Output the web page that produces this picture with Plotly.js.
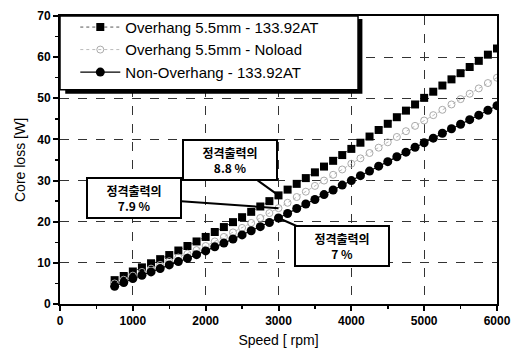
<!DOCTYPE html>
<html>
<head>
<meta charset="utf-8">
<script src="https://cdn.plot.ly/plotly-3.0.1.min.js"></script>
<style>html,body{margin:0;padding:0;background:#fff;}#chart{width:518px;height:354px;}</style>
</head>
<body>
<div id="chart"></div>
<script>
// Speed [rpm]
const speed = [750, 875, 1000, 1125, 1250, 1375, 1500, 1625, 1750, 1875, 2000, 2125, 2250, 2375, 2500, 2625, 2750, 2875, 3000, 3125, 3250, 3375, 3500, 3625, 3750, 3875, 4000, 4125, 4250, 4375, 4500, 4625, 4750, 4875, 5000, 5125, 5250, 5375, 5500, 5625, 5750, 5875, 6000];
// Core loss [W]
const overhangLoad = [5.8, 6.8, 7.9, 8.9, 9.9, 10.9, 11.9, 13.0, 14.1, 15.2, 16.3, 17.5, 18.7, 19.9, 21.1, 22.4, 23.7, 25.0, 26.4, 27.8, 29.2, 30.6, 32.0, 33.4, 34.8, 36.2, 37.7, 39.2, 40.7, 42.3, 43.8, 45.4, 47.0, 48.5, 50.1, 51.6, 53.1, 54.6, 56.1, 57.6, 59.1, 60.6, 62.1];
const overhangNoload = [5.0, 5.9, 6.9, 7.8, 8.6, 9.5, 10.4, 11.3, 12.2, 13.1, 14.1, 15.2, 16.3, 17.4, 18.5, 19.7, 20.9, 22.1, 23.3, 24.6, 26.0, 27.3, 28.7, 30.0, 31.4, 32.7, 34.1, 35.4, 36.7, 38.0, 39.3, 40.6, 42.0, 43.3, 44.6, 45.9, 47.2, 48.5, 49.8, 51.1, 52.4, 53.7, 55.0];
const nonOverhang = [4.3, 5.2, 6.2, 7.0, 7.8, 8.6, 9.5, 10.3, 11.1, 12.0, 12.9, 13.9, 14.8, 15.8, 16.8, 17.8, 18.8, 19.8, 20.9, 22.0, 23.2, 24.3, 25.4, 26.6, 27.7, 28.9, 30.0, 31.2, 32.3, 33.5, 34.6, 35.8, 36.9, 38.1, 39.2, 40.3, 41.5, 42.6, 43.7, 44.8, 45.9, 47.1, 48.2];
const seriesNames = ['Overhang 5.5mm - 133.92AT', 'Overhang 5.5mm - Noload', 'Non-Overhang - 133.92AT'];
const xTicks = [0, 1000, 2000, 3000, 4000, 5000, 6000];
const yTicks = [0, 10, 20, 30, 40, 50, 60, 70];
const calloutLines = ['정격출력의', '8.8 %', '7.9 %', '7 %'];
const calloutIndex = 18; // 3000 rpm

const traces = [
  {x: speed, y: overhangLoad, name: seriesNames[0], mode: 'lines+markers',
   line: {color: '#555', width: 1, dash: 'dot'},
   marker: {symbol: 'square', size: 8, color: '#000'}},
  {x: speed, y: overhangNoload, name: seriesNames[1], mode: 'lines+markers',
   line: {color: '#bbb', width: 1, dash: 'dot'},
   marker: {symbol: 'circle-open', size: 7, color: '#aaa', line: {width: 1, color: '#aaa'}}},
  {x: speed, y: nonOverhang, name: seriesNames[2], mode: 'lines+markers',
   line: {color: '#000', width: 1.2},
   marker: {symbol: 'circle', size: 9, color: '#000'}}
];

const tickFont = {family: 'Liberation Sans, Arial, sans-serif', size: 12, color: '#000', weight: 700};
const annFont = {family: 'Noto Sans CJK KR, sans-serif', size: 12, color: '#000', weight: 700};

function callout(text, cx, cy, px, py) {
  return {
    x: px, y: py, xref: 'x', yref: 'y',
    ax: cx, ay: cy, axref: 'x', ayref: 'y',
    text: text, showarrow: true, arrowhead: 0, arrowwidth: 2, arrowcolor: '#000',
    bgcolor: '#fff', bordercolor: '#000', borderwidth: 2, borderpad: 4,
    width: 84, height: 30, font: annFont, align: 'center'
  };
}

const layout = {
  width: 518, height: 354,
  margin: {l: 60, r: 21, t: 11, b: 50},
  paper_bgcolor: '#fff', plot_bgcolor: '#fff',
  showlegend: true,
  legend: {x: 0.035, y: 1.018, xanchor: 'left', yanchor: 'top',
           bgcolor: 'rgba(0,0,0,0)', borderwidth: 0, itemwidth: 40,
           font: {family: 'Liberation Sans, Arial, sans-serif', size: 15, color: '#000'},
           tracegroupgap: 0},
  xaxis: {range: [0, 6000], tickvals: xTicks, ticktext: xTicks.map(String),
          showline: true, linecolor: '#000', linewidth: 2, mirror: true,
          ticks: 'outside', ticklen: 5, tickwidth: 2, tickcolor: '#000',
          minor: {dtick: 500, ticks: 'outside', ticklen: 3, tickwidth: 1.5, tickcolor: '#000', showgrid: false},
          showgrid: true, gridcolor: '#333', gridwidth: 1, griddash: 'dash',
          zeroline: false, tickfont: tickFont,
          title: {text: 'Speed [ rpm]', font: {family: 'Liberation Sans, Arial, sans-serif', size: 14, color: '#000'}, standoff: 8}},
  yaxis: {range: [0, 70], tickvals: yTicks, ticktext: yTicks.map(String),
          showline: true, linecolor: '#000', linewidth: 2, mirror: true,
          ticks: 'outside', ticklen: 5, tickwidth: 2, tickcolor: '#000',
          minor: {dtick: 5, ticks: 'outside', ticklen: 3, tickwidth: 1.5, tickcolor: '#000', showgrid: false},
          showgrid: true, gridcolor: '#333', gridwidth: 1, griddash: 'dash',
          zeroline: false, tickfont: tickFont,
          title: {text: 'Core loss [W]', font: {family: 'Liberation Sans, Arial, sans-serif', size: 14, color: '#000'}, standoff: 8}},
  shapes: [
    {type: 'rect', xref: 'paper', yref: 'paper', x0: 0.012, x1: 0.692, y0: 0.73, y1: 0.99,
     fillcolor: '#000', line: {width: 0}, layer: 'above'},
    {type: 'rect', xref: 'paper', yref: 'paper', x0: 0.0, x1: 0.682, y0: 0.744, y1: 1.0,
     fillcolor: '#fff', line: {width: 1.5, color: '#000'}, layer: 'above'}
  ],
  annotations: [
    callout(calloutLines[0] + '<br>' + calloutLines[1], 2330, 34.9, speed[calloutIndex], overhangLoad[calloutIndex]),
    callout(calloutLines[0] + '<br>' + calloutLines[2], 1020, 25.8, speed[calloutIndex], overhangNoload[calloutIndex]),
    callout(calloutLines[0] + '<br>' + calloutLines[3], 3870, 14.1, speed[calloutIndex], nonOverhang[calloutIndex])
  ]
};

Plotly.newPlot('chart', traces, layout, {staticPlot: true, displayModeBar: false});
</script>
</body>
</html>
